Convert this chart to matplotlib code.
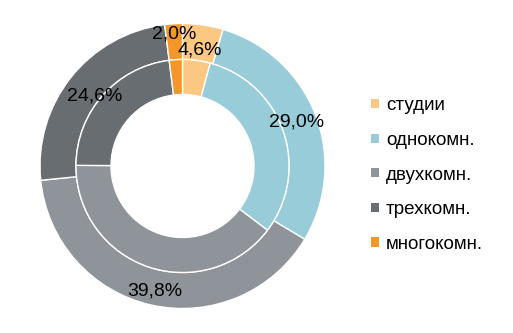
import numpy as np
import matplotlib as mpl
mpl.use('Agg')
import matplotlib.pyplot as plt
from matplotlib.patches import Patch

plt.rcParams['font.family'] = ['Liberation Sans', 'DejaVu Sans']

categories = ['студии', 'однокомн.', 'двухкомн.', 'трехкомн.', 'многокомн.']
outer_share = [4.6, 29.0, 39.8, 24.6, 2.0]
inner_share = [4.2, 31.1, 39.8, 22.9, 2.0]
colors = ['#fac882', '#98ccd8', '#8e9499', '#686d72', '#f3972b']

# radial position of each percentage label (outer ring)
label_r = [0.82, 0.86, 0.90, 0.79, 0.93]

W, H = 513, 333
fig = plt.figure(figsize=(W / 100, H / 100), dpi=100)
cx, cy, rad = 182.5, 166, 142.5
ax = fig.add_axes([(cx - rad) / W, (H - cy - rad) / H, 2 * rad / W, 2 * rad / H])
ax.axis('off')

r_mid = 106.5 / rad
r_hole = 71.5 / rad

wedges, _ = ax.pie(outer_share, radius=1.0, colors=colors, startangle=90,
                   counterclock=False,
                   wedgeprops=dict(width=1.0 - r_mid, edgecolor='white', linewidth=1))
ax.pie(inner_share, radius=r_mid, colors=colors, startangle=90,
       counterclock=False,
       wedgeprops=dict(width=r_mid - r_hole, edgecolor='white', linewidth=1))
ax.set_xlim(-1, 1)
ax.set_ylim(-1, 1)

for w, v, r in zip(wedges, outer_share, label_r):
    ang = np.deg2rad((w.theta1 + w.theta2) / 2)
    txt = ('%.1f' % v).replace('.', ',') + '%'
    ax.text(r * np.cos(ang), r * np.sin(ang), txt, ha='center', va='center',
            fontsize=14, color='black')

handles = [Patch(facecolor=c, edgecolor='none') for c in colors]
fig.legend(handles, categories, loc='center left',
           bbox_to_anchor=(362 / W, 1 - 175 / H), frameon=False,
           fontsize=13.5, handlelength=0.38, handleheight=0.38,
           handletextpad=0.4, labelspacing=0.94, borderpad=0)

plt.savefig('out.png', dpi=100)
plt.close()
